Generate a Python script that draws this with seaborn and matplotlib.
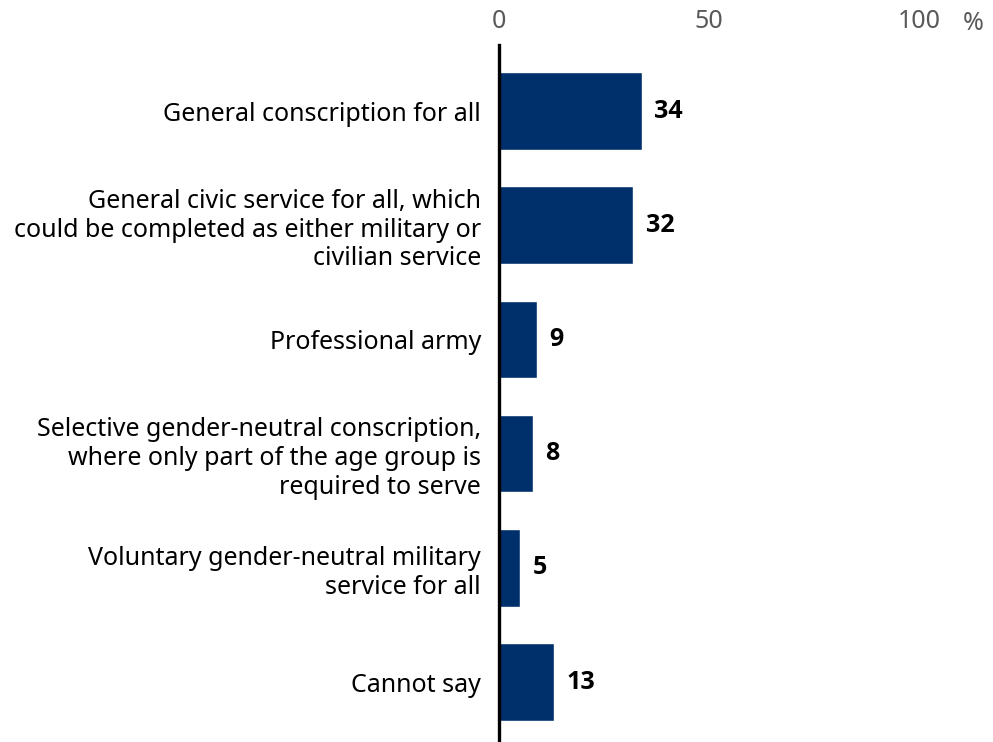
import matplotlib
matplotlib.use("Agg")
import matplotlib.pyplot as plt
import seaborn as sns
import pandas as pd

# data
categories = [
    "General conscription for all",
    "General civic service for all, which\ncould be completed as either military or\ncivilian service",
    "Professional army",
    "Selective gender-neutral conscription,\nwhere only part of the age group is\nrequired to serve",
    "Voluntary gender-neutral military\nservice for all",
    "Cannot say",
]
values = [34, 32, 9, 8, 5, 13]
x_ticks = [0, 50, 100]

df = pd.DataFrame({"category": categories, "value": values})

sns.set_style("white")
plt.rcParams["font.family"] = ["Noto Sans", "DejaVu Sans"]

fig = plt.figure(figsize=(9.93, 7.42), dpi=100)
W, H = 993, 742
ax = fig.add_axes([499 / W, 0, 420 / W, 697 / H])

sns.barplot(data=df, x="value", y="category", orient="h", color="#00306b",
            width=0.68, saturation=1, ax=ax)

ax.set_xlim(0, 100)
ax.set_ylim(5.525, -0.578)
ax.set_xlabel("")
ax.set_ylabel("")

ax.xaxis.tick_top()
ax.set_xticks(x_ticks)
ax.set_xticklabels([str(t) for t in x_ticks], color="#595959", fontsize=18)
ax.tick_params(axis="x", length=0, pad=8)
ax.tick_params(axis="y", length=0, pad=13, labelsize=18, labelcolor="black")
for lbl in ax.get_yticklabels():
    lbl.set_linespacing(1.2)

for s in ["top", "right", "bottom"]:
    ax.spines[s].set_visible(False)
ax.spines["left"].set_color("black")
ax.spines["left"].set_linewidth(2.4)

for i, v in enumerate(values):
    ax.text(v + 3, i, str(v), va="center", ha="left", fontsize=18,
            fontweight="bold", color="black", family=["Open Sans", "DejaVu Sans"])

fig.text(973 / W, 1 - 24 / H, "%", ha="center", va="center",
         fontsize=18, color="#595959")

fig.savefig("out.png", dpi=100)
